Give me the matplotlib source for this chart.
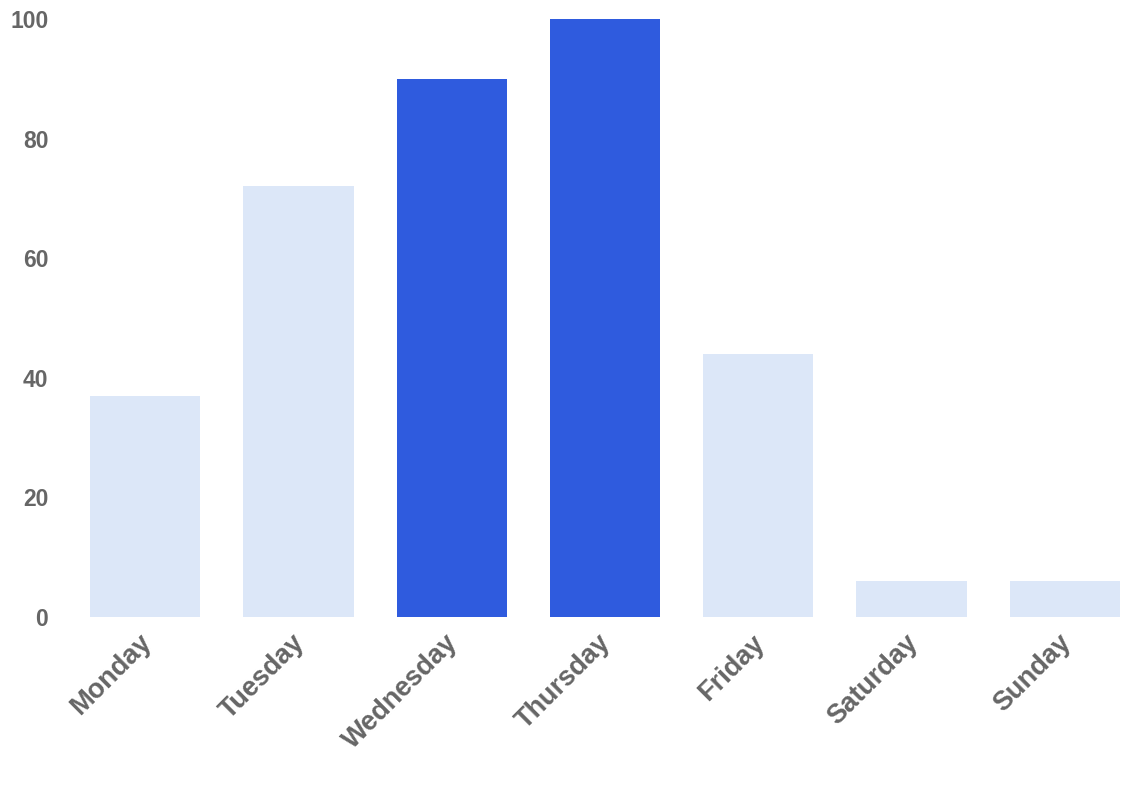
import matplotlib.pyplot as plt
import matplotlib.transforms as mtransforms
import numpy as np

days = ["Monday", "Tuesday", "Wednesday", "Thursday", "Friday", "Saturday", "Sunday"]
values = [37, 72, 90, 100, 44, 6, 6]
highlight = [False, False, True, True, False, False, False]
yticks = [0, 20, 40, 60, 80, 100]

light = "#dce7f8"
dark = "#2f5bde"
text_col = "#666666"

plt.rcParams["font.family"] = ["Liberation Sans", "DejaVu Sans"]

fig = plt.figure(figsize=(11.48, 8.0), dpi=100)
ax = fig.add_axes([90 / 1148, 183 / 800, 1030 / 1148, 598 / 800])

x = np.arange(len(days))
colors = [dark if h else light for h in highlight]
ax.bar(x, values, width=0.72, color=colors)

ax.set_xlim(-0.36, len(days) - 1 + 0.36)
ax.set_ylim(0, 100)
ax.set_yticks(yticks)
ax.set_yticklabels([str(v) for v in yticks], fontsize=16.5, fontweight="bold", color=text_col)
ax.set_xticks(x)
ax.set_xticklabels(days, rotation=45, ha="right", rotation_mode="anchor",
                   fontsize=19.5, fontweight="bold", color=text_col)
ax.tick_params(axis="y", length=0, pad=30)
ax.tick_params(axis="x", length=0, pad=9)
for s in ax.spines.values():
    s.set_visible(False)

# nudge rotated labels a bit left
shift = mtransforms.ScaledTranslation(-7 / 100, 0, fig.dpi_scale_trans)
for lbl in ax.get_xticklabels():
    lbl.set_transform(lbl.get_transform() + shift)

fig.savefig("out.png", dpi=100)
